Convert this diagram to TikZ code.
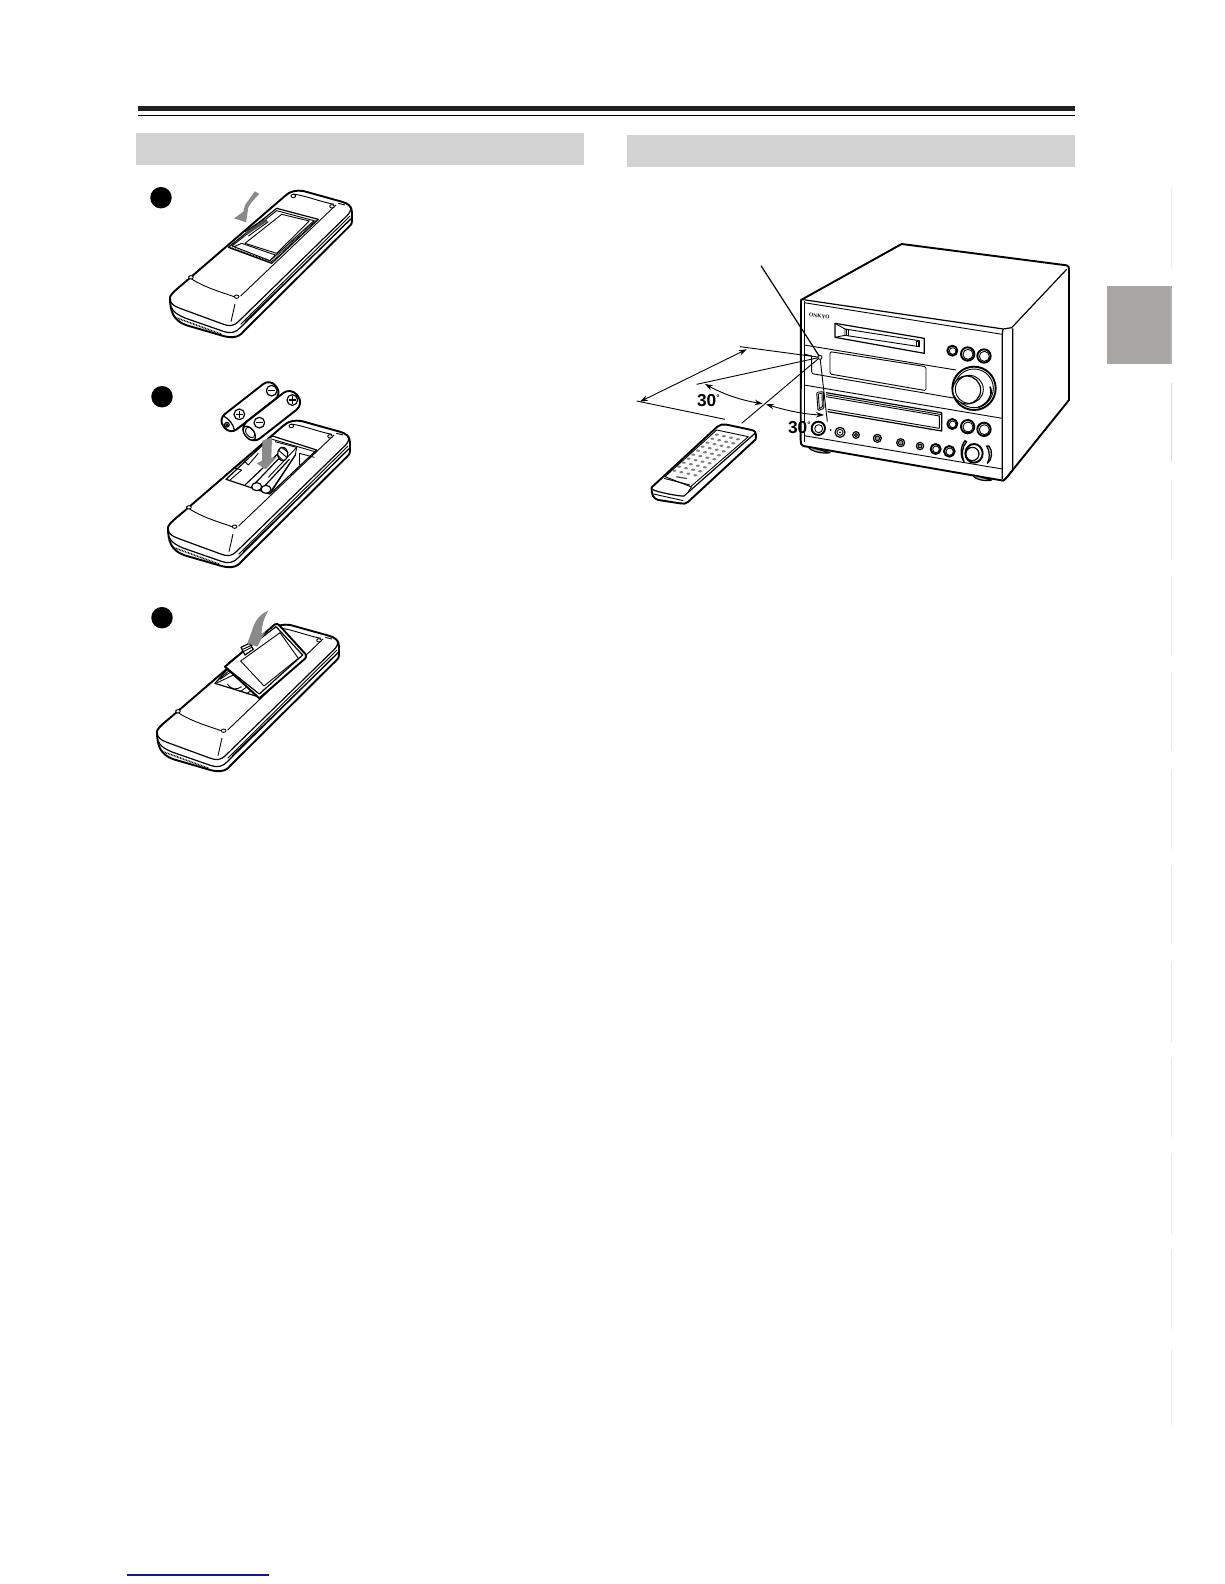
\documentclass[tikz,border=0pt]{standalone}
\usepackage{fontspec}
\setmainfont{Liberation Sans}
\newfontfamily\labelserif{Liberation Serif}
\usetikzlibrary{arrows.meta}
\definecolor{bandgrey}{HTML}{D2D2D2}
\definecolor{tabgrey}{HTML}{A8A5A5}
\definecolor{arrowgrey}{HTML}{8A8A8A}
\definecolor{linkblue}{HTML}{14148C}
\tikzset{
  outline/.style={line width=1.9pt,line join=round,draw=black},
  thinline/.style={line width=0.9pt,line join=round,draw=black},
  midline/.style={line width=1.2pt,line join=round,draw=black},
  hatchline/.style={line width=1.6pt,dash pattern=on 0.8pt off 0.8pt,draw=black},
  bodyfill/.style={fill=white},
  fatgrey/.style={fill=arrowgrey,draw=none},
  stepdot/.style={circle,fill=black,inner sep=0pt,minimum size=21.5pt},
  band/.style={fill=bandgrey,draw=none},
  marginline/.style={line width=1pt,draw=black!8},
  dimline/.style={line width=0.9pt,draw=black},
  dimarrow/.style={line width=0.9pt,draw=black,{Stealth[length=8pt,width=5.5pt]}-{Stealth[length=8pt,width=5.5pt]}},
  anglelabel/.style={font=\fontsize{17.3}{17.3}\selectfont\bfseries,inner sep=0pt},
  zoomview/.style={scale=1/3},
}
\newcommand{\remotebody}{%
  \draw[outline,bodyfill] (120,622) .. controls (122,610) and (150,590) .. (175,568) -- (465,318) .. controls (480,303) and (500,300) .. (520,303)
     -- (635,335) .. controls (655,340) and (666,350) .. (666,368) -- (666,395) .. controls (666,402) and (662,405) .. (658,409)
     -- (340,725) .. controls (325,745) and (300,745) .. (270,735) -- (170,706)
     .. controls (130,692) and (120,665) .. (120,622) -- cycle;
  \draw[midline] (120,628) .. controls (122,640) and (130,648) .. (150,655) -- (278,702)
     .. controls (298,710) and (312,708) .. (325,695) -- (650,378) .. controls (660,368) and (664,360) .. (662,348);
  \draw[midline] (123,650) .. controls (130,668) and (145,675) .. (165,684) -- (280,724)
     .. controls (300,732) and (318,728) .. (332,712) -- (664,385);
  \draw[thinline] (332,703) -- (660,378);
  \draw[thinline] (345,695) -- (662,388);
  \draw[hatchline] (135,682) -- (275,733);
  \draw[thinline] (175,560) .. controls (215,590) and (270,605) .. (318,622);
  \draw[thinline] (332,618) -- (618,345);
  \draw[thinline] (490,312) .. controls (530,318) and (570,335) .. (612,343);
  \draw[thinline] (315,642) -- (303,695);
  \draw[thinline] (625,340) -- (645,345);
  \foreach \sx/\sy in {183/562,320/620,490/318,606/349}{
    \draw[thinline,bodyfill] (\sx,\sy) ellipse [x radius=7,y radius=5];
  }
}
\newcommand{\doorclosed}{%
  \draw[midline,bodyfill] (295,472) -- (440,355) -- (565,388) -- (425,520) -- cycle;
  \draw[hatchline] (301,473) -- (424,515) -- (558,391);
  \draw[thinline] (306,468) -- (440,362) -- (552,392) -- (424,508) -- cycle;
  \draw[thinline,bodyfill] (345,460) -- (455,373) -- (538,393) -- (440,490) -- cycle;
  \draw[thinline,bodyfill] (312,470) -- (335,460) -- (436,495) -- (420,512) -- cycle;
  \draw[line width=3pt,draw=black!70] (350,430) -- (410,390);
  \draw[thinline] (345,425) -- (405,385);
  \draw[thinline] (355,438) -- (415,395);
}
\begin{document}
\begin{tikzpicture}[x=1pt,y=-1pt]
\useasboundingbox (0,0) rectangle (1224,1584);
% header rules and bands
\fill[black!87] (138,106) rectangle (1075,111);
\fill[black] (138,114.8) rectangle (1075,116);
\fill[band] (136,133) rectangle (584,165);
\fill[band] (627,135) rectangle (1075,167);
% thumb tab and margin rules
\fill[tabgrey] (1107,286) rectangle (1172,364);
\fill[black!30] (1170,286) rectangle (1172,364);
\foreach \ya/\yb in {188/268,480/560,576/655,672/750,771/849,866/944,963/1042,1059/1137,1155/1235,1250/1329,1349/1425}{
  \draw[marginline] (1171,\ya) -- (1171,\yb);
}
\draw[marginline,draw=black!14] (1171,383) -- (1171,462);
\fill[linkblue] (127,1574.4) rectangle (269,1575.6);
% step markers
\node[stepdot] (stepone) at (161,197.7) {};
\node[stepdot] (steptwo) at (162,396.7) {};
\node[stepdot] (stepthree) at (162,617.7) {};
% ---------- remote 1
\begin{scope}[shift={(130,90)},zoomview]
  \remotebody
  \doorclosed
  \fill[fatgrey] (388,312) -- (375,304) -- (345,345) -- (340,365) -- (312,385) -- (348,397) -- (355,352) .. controls (362,338) and (375,325) .. (388,312) -- cycle;
\end{scope}
% ---------- remote 2
\begin{scope}[shift={(128,320)},zoomview]
  \remotebody
\end{scope}
\begin{scope}[shift={(140,370)},zoomview]
  \draw[midline,bodyfill] (258,328) -- (397,198) -- (530,240) -- (390,372) -- cycle;
  \draw[thinline] (312,272) -- (325,285) -- (355,250);
  \draw[thinline] (285,295) -- (305,300) -- (270,330);
  \draw[thinline] (397,208) -- (528,246);
  \draw[thinline] (405,215) -- (470,232) -- (385,322);
  \draw[thinline] (470,232) -- (466,255) -- (395,360);
  \draw[thinline] (478,250) -- (523,262);
  \draw[thinline] (478,250) -- (478,285);
  \draw[midline] (315,345) -- (415,250);
  \draw[midline] (345,340) -- (420,262);
  \draw[midline] (372,350) -- (448,268);
  \draw[midline] (392,368) -- (466,255);
  \draw[midline,bodyfill] (350,350) ellipse [x radius=15,y radius=12];
  \draw[midline,bodyfill] (378,358) ellipse [x radius=15,y radius=12];
  \draw[midline,bodyfill] (428,252) ellipse [x radius=15,y radius=20];
  \draw[thinline] (425,232) -- (445,248);
  \draw[thinline] (415,240) -- (440,262);
  \draw[thinline] (412,255) -- (430,272);
  \fill[fatgrey] (367,212) -- (396,202) -- (394,263) -- (410,262) -- (377,298) -- (350,280) -- (366,272) -- cycle;
  % batteries
  \begin{scope}[shift={(330,110)},rotate=38]
    \draw[outline,bodyfill,rounded corners=8.5pt] (-99,-29) rectangle (99,29);
    \draw[midline,bodyfill] (-88,0) ellipse [x radius=7,y radius=7];
    \draw[thinline] (-88,0) ellipse [x radius=3,y radius=3];
    \draw[midline] (-80,-27) .. controls (-72,-10) and (-72,10) .. (-80,27);
  \end{scope}
  \begin{scope}[shift={(395,137)},rotate=38]
    \draw[outline,bodyfill,rounded corners=9.5pt] (-98,-32) rectangle (98,32);
    \draw[midline,bodyfill] (-85,0) ellipse [x radius=14,y radius=24];
    \draw[thinline] (-82,0) ellipse [x radius=11,y radius=18];
  \end{scope}
  \foreach \px/\py in {298/133,457/90}{
    \draw[midline,bodyfill] (\px,\py) circle [radius=16];
    \draw[midline] (\px-11,\py) -- (\px+11,\py) (\px,\py-11) -- (\px,\py+11);
  }
  \foreach \mx/\my in {395/62,358/158}{
    \draw[midline,bodyfill] (\mx,\my) circle [radius=16];
    \draw[midline] (\mx-11,\my) -- (\mx+11,\my);
  }
\end{scope}
% ---------- remote 3
\begin{scope}[shift={(117,524)},zoomview]
  \remotebody
\end{scope}
\begin{scope}[shift={(140,590)},zoomview]
  \draw[midline,bodyfill] (225,280) -- (262,238) -- (360,322) -- cycle;
  \draw[thinline] (232,272) -- (270,240);
  \draw[thinline] (240,268) -- (272,246);
  \draw[thinline] (232,278) -- (280,255);
  \draw[thinline] (262,282) .. controls (275,300) and (290,300) .. (305,290);
  \draw[thinline] (300,305) -- (322,290);
  \draw[thinline] (318,312) -- (345,295);
  \draw[outline,bodyfill] (255,230) -- (405,103) .. controls (410,100) and (414,102) .. (418,106) -- (497,193) .. controls (500,198) and (498,203) .. (495,206)
    -- (358,325) -- cycle;
  \draw[midline] (264,220) -- (408,110) -- (488,195) -- (358,312) -- (255,230);
  \draw[thinline,bodyfill] (302,213) -- (420,128) -- (475,205) -- (372,288) -- cycle;
  \draw[midline,bodyfill] (303,172) -- (328,160) -- (340,178) -- (315,195) -- cycle;
  \draw[thinline] (308,178) -- (332,167);
  \draw[thinline] (311,184) -- (335,172);
  \fill[fatgrey] (385,62) .. controls (360,72) and (345,90) .. (335,125) -- (322,160) -- (352,170) -- (376,125) -- (365,130) .. controls (365,105) and (372,85) .. (385,62) -- cycle;
\end{scope}
% ---------- hi-fi unit
\begin{scope}[shift={(790,230)},zoomview]
  \draw[outline,bodyfill] (33,210) -- (335,42) -- (830,106) .. controls (836,108) and (837,112) .. (837,118) -- (837,510) -- (648,745) -- (640,752) -- (40,648) .. controls (33,645) and (32,640) .. (32,630) -- cycle;
  \draw[midline] (33,208) -- (640,297) -- (665,293) -- (830,118);
  \draw[midline] (668,295) -- (668,722) -- (642,750);
  \draw[midline] (640,297) .. controls (637,302) and (637,308) .. (637,315) -- (637,748);
  \draw[thinline] (42,212) -- (42,615) -- (42,635);
  \draw[thinline] (42,218) -- (637,313);
  \draw[thinline] (42,345) -- (498,420);
  \draw[thinline] (42,372) -- (65,378) -- (65,425) .. controls (65,430) and (68,432) .. (72,432) -- (490,504);
  \draw[thinline] (42,465) -- (637,565);
  \draw[thinline] (42,617) -- (637,717);
  % feet
  \draw[midline,fill=black!30] (55,650) .. controls (60,665) and (100,672) .. (120,668) -- cycle;
  \draw[midline,fill=black!30] (548,735) .. controls (555,750) and (590,755) .. (605,750) -- cycle;
  % MD slot
  \draw[midline] (135,280) -- (403,325) -- (403,370) -- (135,322) -- cycle;
  \draw[thinline] (165,297) -- (388,332) -- (388,350) -- (165,316) -- cycle;
  \draw[thinline] (135,280) -- (165,297) (135,322) -- (165,316);
  \draw[thinline] (168,298) rectangle (175,316);
  \draw[thinline] (378,333) rectangle (385,350);
  % display
  \draw[thinline,rounded corners=1.5pt] (120,365) -- (408,410) -- (408,482) -- (120,432) -- cycle;
  % ONKYO
  \node[font=\labelserif\bfseries\fontsize{5.5}{5.5}\selectfont,inner sep=0pt,rotate=-6] (brand) at (88,258) {ONKYO};
  % buttons
  \foreach \bx/\by/\br in {487/362/15,533/372/20,582/378/20,487/582/15,533/590/20,582/598/20}{
    \draw[outline,bodyfill] (\bx,\by) circle [radius=\br];
    \draw[thinline] (\bx+1,\by+1) circle [radius=\br-5];
  }
  % main knob
  \draw[outline,bodyfill] (552,475) circle [radius=65];
  \draw[thinline] (552,475) circle [radius=58];
  \draw[midline,bodyfill] (530,480) circle [radius=42];
  \draw[thinline] (538,478) circle [radius=42];
  \draw[line width=1.6pt] (600,470) .. controls (612,495) and (590,525) .. (565,532);
  % disc tray
  \draw[thinline,rounded corners=1pt] (80,487) -- (100,485) -- (102,535) -- (84,542) -- cycle;
  \draw[thinline] (85,492) -- (96,490) -- (97,530) -- (88,536) -- cycle;
  \draw[midline] (108,488) -- (455,548) -- (455,603) -- (113,545);
  \draw[thinline] (108,494) -- (455,554);
  \draw[thinline] (108,500) -- (448,558) -- (448,595);
  \draw[thinline] (113,538) -- (448,595);
  % lower controls
  \draw[outline,bodyfill] (85,595) circle [radius=20];
  \draw[thinline] (86,596) circle [radius=12];
  \fill (122,600) circle [radius=3];
  \draw[midline,bodyfill] (150,607) circle [radius=15];
  \draw[thinline] (150,607) circle [radius=9];
  \fill (150,607) circle [radius=3];
  \foreach \cx/\cy/\cr in {198/615/10,262/625/12,332/638/12,390/648/11}{
    \draw[midline,bodyfill] (\cx,\cy) circle [radius=\cr];
    \draw[thinline,fill=black!40] (\cx,\cy) circle [radius=\cr-5];
  }
  \foreach \cx/\cy/\cr in {437/657/15,478/664/16}{
    \draw[outline,bodyfill] (\cx,\cy) circle [radius=\cr];
    \draw[thinline] (\cx+1,\cy+1) circle [radius=\cr-5];
  }
  \draw[outline,bodyfill] (552,670) ellipse [x radius=26,y radius=28];
  \draw[midline] (547,672) circle [radius=20];
  \draw[midline,fill=black!25] (525,632) .. controls (510,650) and (510,680) .. (522,695) .. controls (514,675) and (516,650) .. (530,635) -- cycle;
  \draw[midline,fill=black!25] (590,648) .. controls (600,665) and (600,685) .. (592,700) .. controls (608,690) and (608,660) .. (597,648) -- cycle;
\end{scope}
% ---------- handheld remote
\begin{scope}[shift={(620,230)},zoomview]
  \draw[outline,bodyfill] (95,772) -- (292,590) .. controls (300,583) and (310,582) .. (320,584) -- (395,600)
    .. controls (405,602) and (408,608) .. (408,615) -- (407,628) -- (205,815) .. controls (198,822) and (190,822) .. (180,820)
    -- (115,810) .. controls (100,806) and (94,795) .. (95,772) -- cycle;
  \draw[midline] (97,778) .. controls (105,785) and (180,800) .. (192,798) -- (405,610);
  \draw[thinline] (100,792) -- (190,812);
  \draw[thinline] (135,740) -- (290,600) -- (385,620) -- (212,770) -- cycle;
  \draw[thinline] (132,745) -- (210,765);
  \draw[thinline] (215,770) -- (205,785);
  \foreach \u in {0,...,9}{
    \foreach \v in {0,...,3}{
      \pgfmathsetmacro{\kx}{163+\u*14.2+\v*21}
      \pgfmathsetmacro{\ky}{722-\u*12+\v*4.6}
      \fill[black!50] (\kx,\ky) ellipse [x radius=6,y radius=3.4];
    }
  }
  \node[fill=black!70,minimum width=11pt,minimum height=1.2pt,inner sep=0pt,rotate=-10] (logo) at (185,743) {};
  % sight lines
  \coordinate (sensor) at (600,382);
  \coordinate (pointerend) at (423,107);
  \coordinate (upperend) at (360,350);
  \coordinate (midend) at (230,463);
  \coordinate (lowerend) at (365,580);
  \coordinate (rightend) at (622,575);
  \coordinate (baseA) at (50,513);
  \coordinate (baseB) at (315,568);
  \coordinate (spanA) at (60,515);
  \coordinate (spanB) at (380,358);
  \coordinate (angA) at (255,462);
  \coordinate (angB) at (428,521);
  \coordinate (angC) at (438,523);
  \coordinate (angD) at (612,555);
  \draw[dimline,line width=1.2pt] (pointerend) -- (sensor);
  \draw[dimline] (sensor) -- (upperend);
  \draw[dimline] (sensor) -- (midend);
  \draw[dimline] (sensor) -- (lowerend);
  \draw[dimline] (sensor) -- (rightend);
  \draw[dimline] (baseA) -- (baseB);
  \draw[dimarrow] (spanA) -- (spanB);
  \draw[dimarrow] (angA) .. controls (315,495) and (370,512) .. (angB);
  \draw[dimarrow] (angC) .. controls (495,540) and (550,553) .. (angD);
  \draw[thinline,bodyfill] (sensor) circle [radius=6];
  \node[anglelabel] (angleone) at (265,513) {30\raisebox{6pt}{\fontsize{8}{8}\selectfont°}};
  \node[anglelabel] (angletwo) at (538,593) {30\raisebox{6pt}{\fontsize{8}{8}\selectfont°}};
\end{scope}
\end{tikzpicture}
\end{document}
